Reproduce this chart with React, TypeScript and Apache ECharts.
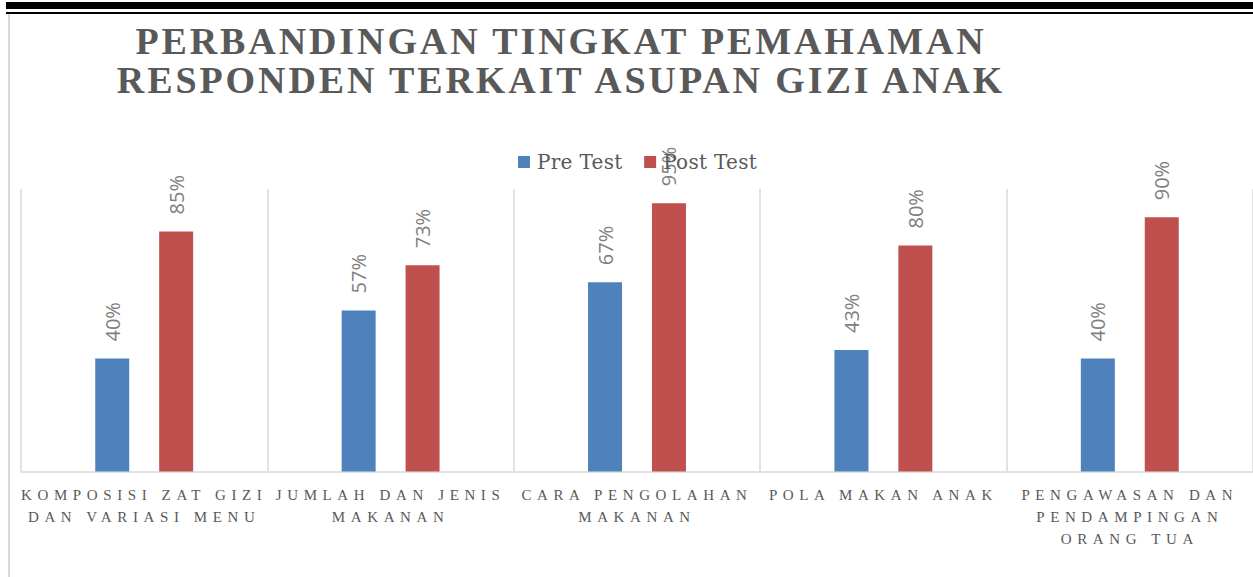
import React, { useEffect, useRef } from "react";
import * as echarts from "echarts";

const categories = [
  "KOMPOSISI ZAT GIZI\nDAN VARIASI MENU",
  "JUMLAH DAN JENIS\nMAKANAN",
  "CARA PENGOLAHAN\nMAKANAN",
  "POLA MAKAN ANAK",
  "PENGAWASAN DAN\nPENDAMPINGAN\nORANG TUA",
];
const seriesNames = ["Pre Test", "Post Test"];
const preTest = [40, 57, 67, 43, 40];
const postTest = [85, 73, 95, 80, 90];
const titleText = "PERBANDINGAN TINGKAT PEMAHAMAN\nRESPONDEN TERKAIT ASUPAN GIZI ANAK";

const BLUE = "#4f81bd";
const RED = "#c0504d";

export default function App() {
  const ref = useRef<HTMLDivElement>(null);

  useEffect(() => {
    document.body.style.margin = "0";
    const el = ref.current!;
    const chart = echarts.init(el, null, { renderer: "svg" });

    const titleLines = titleText.split("\n");
    const axisLines = new Set<string>();
    categories.forEach((c) => c.split("\n").forEach((l) => axisLines.add(l)));

    const applySpacing = () => {
      el.querySelectorAll("text").forEach((t) => {
        const s = (t.textContent || "").trim();
        if (titleLines.includes(s)) {
          t.style.letterSpacing = "2.9px";
        } else if (axisLines.has(s)) {
          t.style.letterSpacing = "5.6px";
        } else if (seriesNames.includes(s)) {
          t.style.letterSpacing = "0.3px";
        }
      });
    };

    const labelCommon = {
      show: true,
      position: "top" as const,
      distance: 17,
      rotate: 90,
      align: "left" as const,
      verticalAlign: "middle" as const,
      formatter: (p: any) => p.value + "%",
      fontFamily: "'Open Sans', sans-serif",
      fontSize: 20,
      color: "#808080",
    };

    chart.setOption({
      animation: false,
      backgroundColor: "#ffffff",
      graphic: [
        { type: "rect", shape: { x: 6, y: 2, width: 1247, height: 7 }, style: { fill: "#000" }, silent: true },
        { type: "rect", shape: { x: 6, y: 12, width: 1247, height: 2 }, style: { fill: "#000" }, silent: true },
        { type: "rect", shape: { x: 8, y: 14, width: 2, height: 563 }, style: { fill: "#d9d9d9" }, silent: true },
        {
          type: "text",
          x: 561,
          y: 21,
          silent: true,
          style: {
            text: titleText,
            textAlign: "center",
            textVerticalAlign: "top",
            fontFamily: "'Liberation Serif', 'Times New Roman', serif",
            fontWeight: "bold",
            fontSize: 38,
            lineHeight: 39,
            fill: "#595959",
          },
        },
      ],
      legend: {
        data: seriesNames,
        left: 513,
        top: 147,
        icon: "rect",
        itemWidth: 12,
        itemHeight: 12,
        itemGap: 24,
        textStyle: {
          fontFamily: "'DejaVu Serif', serif",
          fontSize: 20,
          color: "#595959",
          padding: [0, 0, 0, 2],
        },
      },
      grid: { left: 21, top: 189, width: 1234, height: 282.5, containLabel: false },
      xAxis: {
        type: "category",
        data: categories,
        axisTick: { show: false },
        axisLine: { show: true, lineStyle: { color: "#d9d9d9", width: 1.5 } },
        splitLine: { show: true, lineStyle: { color: "#d9d9d9", width: 1.5 } },
        axisLabel: {
          interval: 0,
          margin: 12,
          fontFamily: "'Liberation Serif', 'Times New Roman', serif",
          fontSize: 15,
          lineHeight: 22,
          color: "#595959",
        },
      },
      yAxis: {
        type: "value",
        min: 0,
        max: 100,
        show: false,
        splitLine: { show: false },
      },
      series: [
        {
          name: seriesNames[0],
          type: "bar",
          data: preTest,
          barWidth: 34,
          barGap: "88%",
          itemStyle: { color: BLUE },
          label: labelCommon,
        },
        {
          name: seriesNames[1],
          type: "bar",
          data: postTest,
          barWidth: 34,
          barGap: "88%",
          itemStyle: { color: RED },
          label: labelCommon,
        },
      ],
    });

    applySpacing();
    chart.on("finished", applySpacing);

    return () => {
      chart.dispose();
    };
  }, []);

  return <div ref={ref} style={{ width: 1253, height: 577 }} />;
}
